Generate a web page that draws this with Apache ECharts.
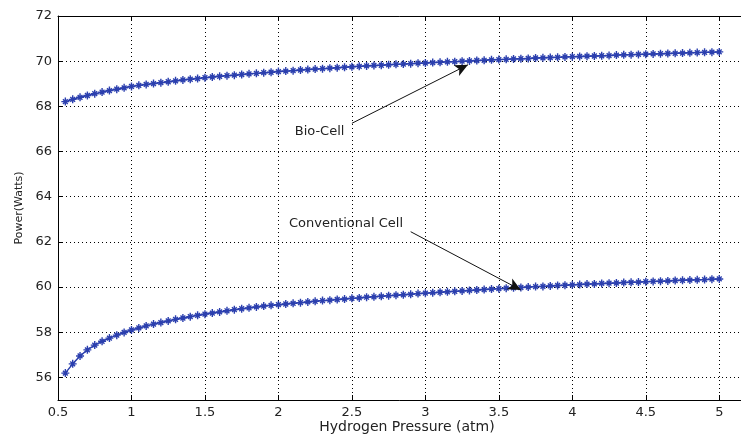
<!DOCTYPE html>
<html>
<head>
<meta charset="utf-8">
<script src="https://cdn.jsdelivr.net/npm/echarts@6/dist/echarts.min.js"></script>
<style>
  html, body { margin: 0; padding: 0; background: #fff; }
  #chart { width: 741px; height: 435px; }
</style>
</head>
<body>
<div id="chart"></div>
<script>
// hydrogen pressure (atm)
var pressure = [
  0.55, 0.60, 0.65, 0.70, 0.75, 0.80, 0.85, 0.90, 0.95, 1.00,
  1.05, 1.10, 1.15, 1.20, 1.25, 1.30, 1.35, 1.40, 1.45, 1.50,
  1.55, 1.60, 1.65, 1.70, 1.75, 1.80, 1.85, 1.90, 1.95, 2.00,
  2.05, 2.10, 2.15, 2.20, 2.25, 2.30, 2.35, 2.40, 2.45, 2.50,
  2.55, 2.60, 2.65, 2.70, 2.75, 2.80, 2.85, 2.90, 2.95, 3.00,
  3.05, 3.10, 3.15, 3.20, 3.25, 3.30, 3.35, 3.40, 3.45, 3.50,
  3.55, 3.60, 3.65, 3.70, 3.75, 3.80, 3.85, 3.90, 3.95, 4.00,
  4.05, 4.10, 4.15, 4.20, 4.25, 4.30, 4.35, 4.40, 4.45, 4.50,
  4.55, 4.60, 4.65, 4.70, 4.75, 4.80, 4.85, 4.90, 4.95, 5.00
];

// power (W)
var bioCell = [
  68.21, 68.31, 68.40, 68.48, 68.56, 68.63, 68.70, 68.76, 68.82, 68.88,
  68.93, 68.97, 69.01, 69.05, 69.09, 69.13, 69.17, 69.20, 69.23, 69.27,
  69.30, 69.33, 69.36, 69.38, 69.41, 69.44, 69.46, 69.49, 69.51, 69.54,
  69.56, 69.58, 69.61, 69.63, 69.65, 69.67, 69.69, 69.71, 69.73, 69.75,
  69.77, 69.79, 69.81, 69.82, 69.84, 69.86, 69.87, 69.89, 69.91, 69.92,
  69.94, 69.95, 69.97, 69.98, 70.00, 70.01, 70.03, 70.04, 70.06, 70.07,
  70.08, 70.10, 70.11, 70.12, 70.14, 70.15, 70.16, 70.17, 70.19, 70.20,
  70.21, 70.22, 70.23, 70.24, 70.25, 70.27, 70.28, 70.29, 70.30, 70.31,
  70.32, 70.33, 70.34, 70.35, 70.36, 70.37, 70.38, 70.39, 70.40, 70.41
];

var conventionalCell = [
  56.19, 56.60, 56.95, 57.22, 57.43, 57.60, 57.74, 57.87, 57.99, 58.10,
  58.19, 58.28, 58.36, 58.43, 58.50, 58.57, 58.63, 58.69, 58.75, 58.80,
  58.85, 58.90, 58.95, 59.00, 59.04, 59.08, 59.12, 59.16, 59.19, 59.22,
  59.25, 59.28, 59.31, 59.34, 59.37, 59.40, 59.42, 59.45, 59.47, 59.50,
  59.52, 59.55, 59.57, 59.59, 59.62, 59.64, 59.66, 59.68, 59.71, 59.73,
  59.75, 59.77, 59.79, 59.81, 59.83, 59.85, 59.87, 59.89, 59.91, 59.93,
  59.95, 59.97, 59.98, 60.00, 60.02, 60.03, 60.05, 60.07, 60.08, 60.10,
  60.11, 60.13, 60.14, 60.16, 60.17, 60.18, 60.20, 60.21, 60.22, 60.24,
  60.25, 60.26, 60.27, 60.29, 60.30, 60.31, 60.32, 60.33, 60.35, 60.36
];

var seriesNames = ['Bio-Cell', 'Conventional Cell'];

// tick labels
var xTicks = [0.5, 1, 1.5, 2, 2.5, 3, 3.5, 4, 4.5, 5];
var yTicks = [56, 58, 60, 62, 64, 66, 68, 70, 72];

function pairs(xs, ys) {
  return xs.map(function (x, i) { return [x, ys[i]]; });
}

var FONT = 'DejaVu Sans';
var BLUE = '#2b3fae';
var STAR = 'path://M5 0L5 10M0 5L10 5M2 2L8 8M8 2L2 8';

var chart = echarts.init(document.getElementById('chart'), null, { renderer: 'canvas' });

function lineSeries(name, data, note) {
  return {
    name: name,
    type: 'line',
    data: data,
    symbol: STAR,
    symbolSize: 8,
    showAllSymbol: true,
    animation: false,
    itemStyle: { color: BLUE, borderColor: BLUE, borderWidth: 1.4 },
    lineStyle: { color: BLUE, width: 1.5 },
    emphasis: { disabled: true },
    markLine: {
      silent: true,
      animation: false,
      symbol: ['none', 'arrow'],
      symbolSize: [9, 13],
      label: { show: false },
      lineStyle: { color: '#111', width: 1, type: 'solid' },
      data: [[{ coord: note.from }, { coord: note.to }]]
    },
    markPoint: {
      silent: true,
      animation: false,
      symbolSize: 0,
      label: {
        show: true,
        position: 'inside',
        formatter: name,
        color: '#222',
        fontFamily: FONT,
        fontSize: 13
      },
      data: [{ coord: note.text }]
    }
  };
}

var tickLabel = {
  color: '#222',
  fontFamily: FONT,
  fontSize: 13
};

var gridLine = { show: true, lineStyle: { color: '#000', type: [1, 3], width: 1 } };

var option = {
  backgroundColor: '#fff',
  grid: {
    left: 58,
    right: -15,
    top: 16,
    bottom: 35,
    outerBoundsMode: 'none',
    show: false
  },
  xAxis: [{
    type: 'value',
    min: 0.5,
    max: 5.25,
    name: 'Hydrogen Pressure (atm)',
    nameLocation: 'middle',
    nameGap: 20,
    nameMoveOverlap: false,
    nameTextStyle: { color: '#222', fontFamily: FONT, fontSize: 14, verticalAlign: 'top' },
    axisLine: { lineStyle: { color: '#000', width: 1 } },
    axisTick: { inside: true, length: 5, customValues: xTicks, lineStyle: { color: '#000' } },
    axisLabel: Object.assign({ margin: 6, customValues: xTicks }, tickLabel),
    splitLine: gridLine
  }, {
    type: 'value',
    position: 'top',
    min: 0.5,
    max: 5.25,
    axisLine: { onZero: false, lineStyle: { color: '#000', width: 1 } },
    axisTick: { inside: true, length: 5, customValues: xTicks, lineStyle: { color: '#000' } },
    axisLabel: { show: false },
    splitLine: { show: false }
  }],
  yAxis: {
    type: 'value',
    min: 55,
    max: 72,
    name: 'Power(Watts)',
    nameLocation: 'middle',
    nameGap: 33,
    nameMoveOverlap: false,
    nameTextStyle: { color: '#222', fontFamily: FONT, fontSize: 11 },
    axisLine: { show: true, lineStyle: { color: '#000', width: 1 } },
    axisTick: { show: true, inside: true, length: 5, customValues: yTicks, lineStyle: { color: '#000' } },
    axisLabel: Object.assign({ margin: 6, customValues: yTicks }, tickLabel),
    splitLine: gridLine
  },
  series: [
    lineSeries(seriesNames[0], pairs(pressure, bioCell), {
      from: [2.5, 67.25], to: [3.29, 69.84], text: [2.28, 66.88]
    }),
    lineSeries(seriesNames[1], pairs(pressure, conventionalCell), {
      from: [2.9, 62.45], to: [3.65, 59.87], text: [2.46, 62.79]
    })
  ]
};

chart.setOption(option);
</script>
</body>
</html>
